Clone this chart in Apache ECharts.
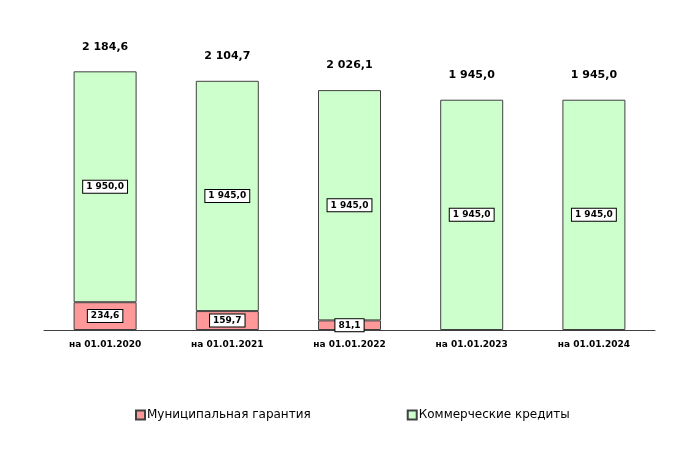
<!DOCTYPE html>
<html><head><meta charset="utf-8">
<script src="https://cdn.jsdelivr.net/npm/echarts@6/dist/echarts.min.js"></script>
<style>html,body{margin:0;padding:0;background:#fff}#c{width:699px;height:472px}</style>
</head><body><div id="c"></div>
<script>
const categories = ['на 01.01.2020','на 01.01.2021','на 01.01.2022','на 01.01.2023','на 01.01.2024'];
const municipal = [234.6, 159.7, 81.1, 0, 0];
const commercial = [1950.0, 1945.0, 1945.0, 1945.0, 1945.0];
const totals = [2184.6, 2104.7, 2026.1, 1945.0, 1945.0];
const seriesNames = ['Муниципальная гарантия', 'Коммерческие кредиты'];

function fmt(v){
  const s = v.toFixed(1).split('.');
  const i = s[0].replace(/\B(?=(\d{3})+(?!\d))/g, ' ');
  return i + ',' + s[1];
}
const font = 'DejaVu Sans';
const boxLabel = {
  show: true, position: 'inside', color: '#000', fontFamily: font, fontWeight: 'bold', fontSize: 9,
  backgroundColor: '#fff', borderColor: '#000', borderWidth: 1, padding: [2, 3, 1, 3],
  formatter: p => fmt(p.value)
};
const withHiddenZero = arr => arr.map(v => v > 0 ? v : {value: v, label: {show: false}, itemStyle: {borderWidth: 0}});
const chart = echarts.init(document.getElementById('c'), null, {renderer: 'canvas'});
chart.setOption({
  animation: false,
  grid: {left: 44, right: 44, top: 34, bottom: 142},
  legend: {
    data: seriesNames, left: 130, top: 404, itemGap: 96, itemWidth: 9, itemHeight: 9,
    icon: 'rect',
    textStyle: {fontFamily: font, fontSize: 12, color: '#000', padding: [0,0,0,-3]}
  },
  xAxis: {
    type: 'category', data: categories,
    axisLine: {lineStyle: {color: '#404040', width: 1}},
    axisTick: {show: false},
    axisLabel: {fontFamily: font, fontWeight: 'bold', fontSize: 9, color: '#000', margin: 10}
  },
  yAxis: {type: 'value', min: 0, max: 2500, show: false, splitLine: {show: false}},
  series: [
    {name: seriesNames[0], type: 'bar', stack: 'a', data: withHiddenZero(municipal), barWidth: 63,
     itemStyle: {color: '#FF9999', borderColor: '#404040', borderWidth: 1}, label: boxLabel},
    {name: seriesNames[1], type: 'bar', stack: 'a', data: withHiddenZero(commercial), barWidth: 63,
     itemStyle: {color: '#CCFFCC', borderColor: '#404040', borderWidth: 1}, label: boxLabel},
    {name: 'total', type: 'bar', data: totals, barWidth: 63, barGap: '-100%', z: 0,
     itemStyle: {color: 'rgba(0,0,0,0)'}, silent: true,
     label: {show: true, position: 'top', distance: 19, color: '#000', fontFamily: font, fontWeight: 'bold', fontSize: 11,
       formatter: p => fmt(p.value)}}
  ]
});
</script></body></html>
